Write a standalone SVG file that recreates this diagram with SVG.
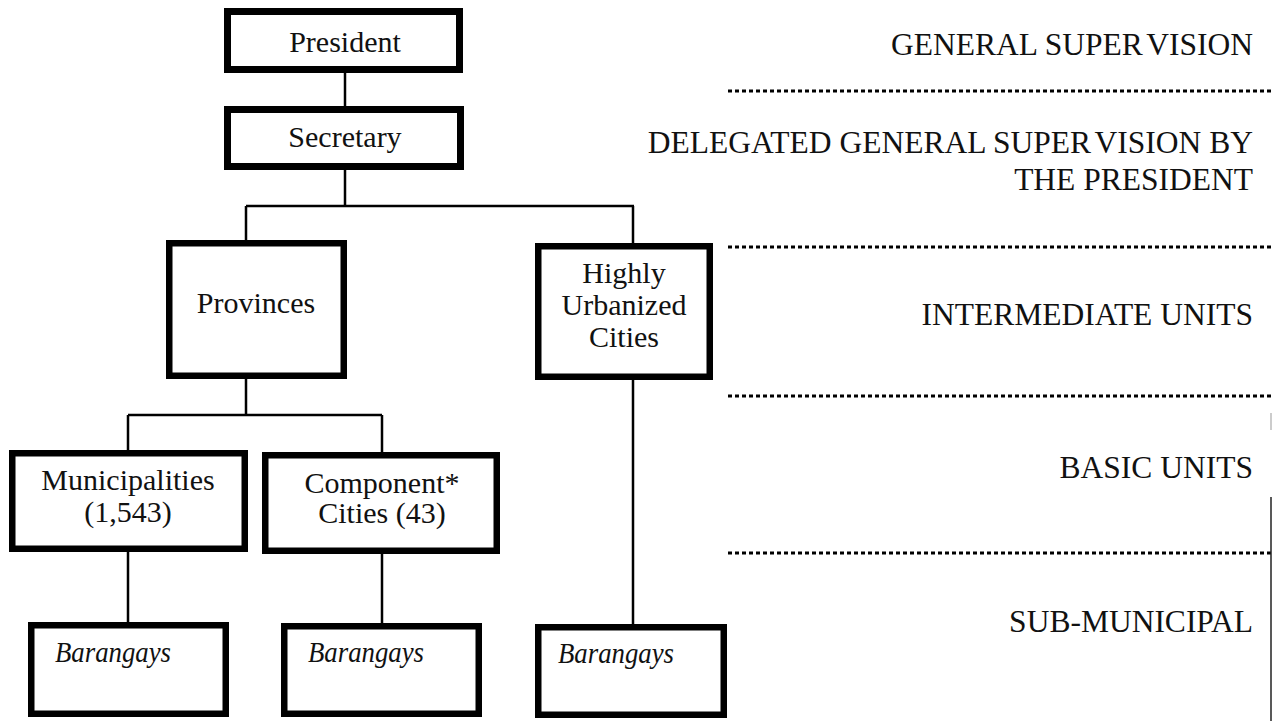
<svg xmlns="http://www.w3.org/2000/svg" width="1273" height="721" viewBox="0 0 1273 721">
  <style>
    .box { fill: #ffffff; stroke: #000000; stroke-width: 6.5; }
    .box-top { fill: #ffffff; stroke: #000000; stroke-width: 7; }
    .lbl { font-family: "Liberation Serif", "Times New Roman", serif; font-size: 30px; fill: #111111; text-anchor: middle; }
    .brgy { font-family: "Liberation Serif", "Times New Roman", serif; font-size: 30px; font-style: italic; fill: #111111; }
    .tier { font-family: "Liberation Serif", "Times New Roman", serif; font-size: 31.5px; fill: #111111; text-anchor: end; }
    .link { fill: none; stroke: #000000; stroke-width: 2.5; }
    .divider { stroke: #000000; stroke-width: 3; stroke-dasharray: 4 3; }
  </style>
  <rect width="1273" height="721" fill="#ffffff"/>

  <!-- connectors -->
  <g id="connectors" class="link">
    <path d="M345 73 V106"/>
    <path d="M345 170 V206 M246 206 H634 M246 206 V240 M633 206 V243"/>
    <path d="M246 379 V415 M128 415 H382 M128 415 V450 M382 415 V452"/>
    <path d="M128 552 V622 M382 554 V623 M633 380 V624"/>
  </g>

  <!-- tree nodes -->
  <g id="president">
    <rect class="box-top" x="227.5" y="11.5" width="232" height="58"/>
    <text class="lbl" x="345" y="52">President</text>
  </g>
  <g id="secretary">
    <rect class="box-top" x="227.5" y="109.5" width="233" height="57"/>
    <text class="lbl" x="345" y="147">Secretary</text>
  </g>
  <g id="provinces">
    <rect class="box" x="169.25" y="243.25" width="174.5" height="132.5"/>
    <text class="lbl" x="256" y="313">Provinces</text>
  </g>
  <g id="highly-urbanized-cities">
    <rect class="box" x="538.25" y="246.25" width="171.5" height="130.5"/>
    <text class="lbl" x="624" y="283">Highly</text>
    <text class="lbl" x="624" y="315">Urbanized</text>
    <text class="lbl" x="624" y="347">Cities</text>
  </g>
  <g id="municipalities">
    <rect class="box" x="12.25" y="453.25" width="232.5" height="95.5"/>
    <text class="lbl" x="128" y="490">Municipalities</text>
    <text class="lbl" x="128" y="522">(1,543)</text>
  </g>
  <g id="component-cities">
    <rect class="box" x="265.25" y="455.25" width="231.5" height="95.5"/>
    <text class="lbl" x="382" y="493">Component*</text>
    <text class="lbl" x="382" y="523">Cities (43)</text>
  </g>
  <g id="barangays-municipal">
    <rect class="box" x="31.25" y="625.25" width="194.5" height="88.5"/>
    <text class="brgy" x="55" y="662" textLength="116" lengthAdjust="spacingAndGlyphs">Barangays</text>
  </g>
  <g id="barangays-component">
    <rect class="box" x="284.25" y="626.25" width="194.5" height="87.5"/>
    <text class="brgy" x="308" y="662" textLength="116" lengthAdjust="spacingAndGlyphs">Barangays</text>
  </g>
  <g id="barangays-huc">
    <rect class="box" x="538.25" y="627.25" width="185.5" height="87.5"/>
    <text class="brgy" x="558" y="663" textLength="116" lengthAdjust="spacingAndGlyphs">Barangays</text>
  </g>

  <!-- supervision tiers -->
  <g id="tiers">
    <text class="tier" x="1253" y="55">GENERAL SUPER<tspan dx="6">VISION</tspan></text>
    <line class="divider" x1="728" y1="91" x2="1273" y2="91"/>
    <text class="tier" x="1253" y="153">DELEGATED GENERAL SUPER<tspan dx="6">VISION BY</tspan></text>
    <text class="tier" x="1253" y="190">THE PRESIDENT</text>
    <line class="divider" x1="728" y1="247" x2="1273" y2="247"/>
    <text class="tier" x="1253" y="325">INTERMEDIATE UNITS</text>
    <line class="divider" x1="728" y1="396" x2="1273" y2="396"/>
    <text class="tier" x="1253" y="478">BASIC UNITS</text>
    <line class="divider" x1="728" y1="553" x2="1273" y2="553"/>
    <text class="tier" x="1253" y="632">SUB-MUNICIPAL</text>
  </g>

  <!-- page edge rule -->
  <line x1="1271" y1="413" x2="1271" y2="430" stroke="#bbbbbb" stroke-width="1.5"/>
  <line x1="1271" y1="497" x2="1271" y2="721" stroke="#222222" stroke-width="1.5"/>
</svg>
